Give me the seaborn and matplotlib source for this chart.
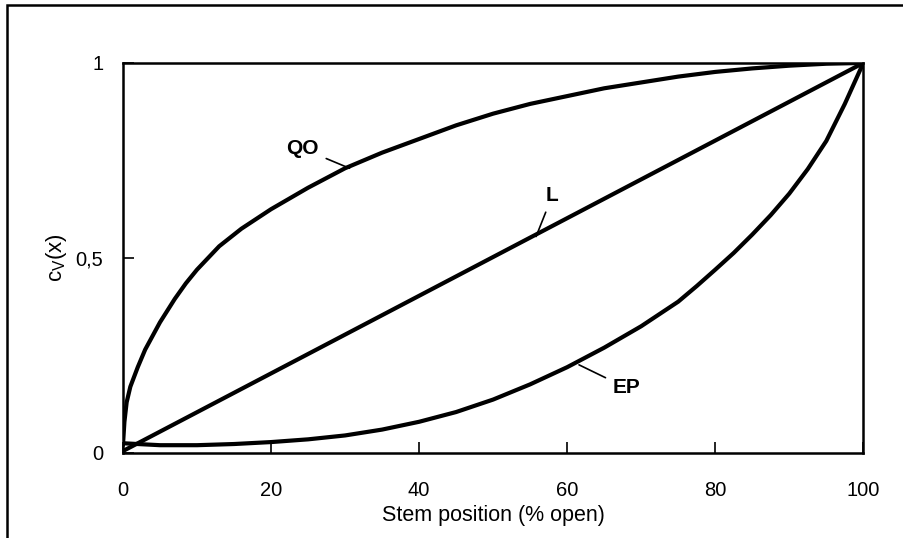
import pandas as pd
import seaborn as sns
import matplotlib.pyplot as plt
from matplotlib.patches import Rectangle

# data (stem position in %, relative flow coefficient)
qo_x = [0, 0.2, 0.5, 1, 1.5, 2, 3, 4, 5, 6, 7, 8.5, 10, 11.5, 13, 16, 20,
        25, 30, 35, 40, 45, 50, 55, 60, 65, 70, 75, 80, 85, 90, 95, 100]
qo_y = [0.02, 0.08, 0.13, 0.17, 0.195, 0.22, 0.265, 0.30, 0.335, 0.365,
        0.395, 0.435, 0.47, 0.50, 0.53, 0.575, 0.625, 0.68, 0.73, 0.77,
        0.805, 0.84, 0.87, 0.895, 0.915, 0.935, 0.95, 0.965, 0.977, 0.986,
        0.993, 0.998, 1.0]

l_x = [0, 100]
l_y = [0.005, 1.0]

ep_x = [0, 5, 10, 15, 20, 25, 30, 35, 40, 45, 50, 55, 60, 65, 70, 75, 77.5,
        80, 82.5, 85, 87.5, 90, 92.5, 95, 97.5, 100]
ep_y = [0.025, 0.02, 0.02, 0.023, 0.028, 0.035, 0.045, 0.06, 0.08, 0.105,
        0.137, 0.176, 0.22, 0.27, 0.325, 0.388, 0.428, 0.47, 0.513, 0.56,
        0.61, 0.665, 0.728, 0.80, 0.895, 1.0]

x_ticks = [0, 20, 40, 60, 80, 100]
y_ticks = [0, 0.5, 1]
y_tick_labels = ['0', '0,5', '1']

df = pd.concat([
    pd.DataFrame({'x': qo_x, 'y': qo_y, 'curve': 'QO'}),
    pd.DataFrame({'x': l_x, 'y': l_y, 'curve': 'L'}),
    pd.DataFrame({'x': ep_x, 'y': ep_y, 'curve': 'EP'}),
], ignore_index=True)

sns.set_theme(style='ticks')
plt.rcParams['font.family'] = ['Liberation Sans', 'DejaVu Sans']
plt.rcParams['mathtext.fontset'] = 'custom'
plt.rcParams['mathtext.rm'] = 'Liberation Sans'
for key in ['text.color', 'axes.labelcolor', 'xtick.color', 'ytick.color',
            'axes.edgecolor']:
    plt.rcParams[key] = 'black'

fig = plt.figure(figsize=(9.04, 5.38), dpi=100)
ax = fig.add_axes([0.136, 0.158, 0.819, 0.725])

sns.lineplot(data=df, x='x', y='y', hue='curve', estimator=None,
             palette={'QO': 'black', 'L': 'black', 'EP': 'black'},
             linewidth=3.0, legend=False, ax=ax)

ax.set_xlim(0, 100)
ax.set_ylim(0, 1)
ax.set_xticks(x_ticks)
ax.set_yticks(y_ticks)
ax.set_yticklabels(y_tick_labels)
ax.tick_params(axis='both', direction='in', length=8, width=1.2,
               labelsize=14.5)
ax.tick_params(axis='x', pad=20)
ax.tick_params(axis='y', pad=14)
for s in ax.spines.values():
    s.set_linewidth(1.8)

ax.set_xlabel('Stem position (% open)', fontsize=15.5, labelpad=4)
ax.set_ylabel(r'c$_\mathregular{V}$(x)', fontsize=16, labelpad=5)

# curve labels with leader lines
arrow = dict(arrowstyle='-', color='black', lw=1.2, shrinkA=3, shrinkB=0)
ax.annotate('QO', xy=(30.6, 0.73), xytext=(24.3, 0.78), fontsize=15,
            fontweight='bold', ha='center', va='center', arrowprops=arrow)
ax.annotate('L', xy=(55.8, 0.555), xytext=(58.0, 0.66), fontsize=15,
            fontweight='bold', ha='center', va='center', arrowprops=arrow)
ax.annotate('EP', xy=(61.6, 0.226), xytext=(68.0, 0.167), fontsize=15,
            fontweight='bold', ha='center', va='center', arrowprops=arrow)

# outer frame of the original figure (runs off the right and bottom edge)
fig.patches.append(Rectangle((0.0077, -0.05), 1.1, 1.041, fill=False,
                             lw=1.8, edgecolor='black',
                             transform=fig.transFigure, clip_on=False))

fig.savefig('out.png', dpi=100)
